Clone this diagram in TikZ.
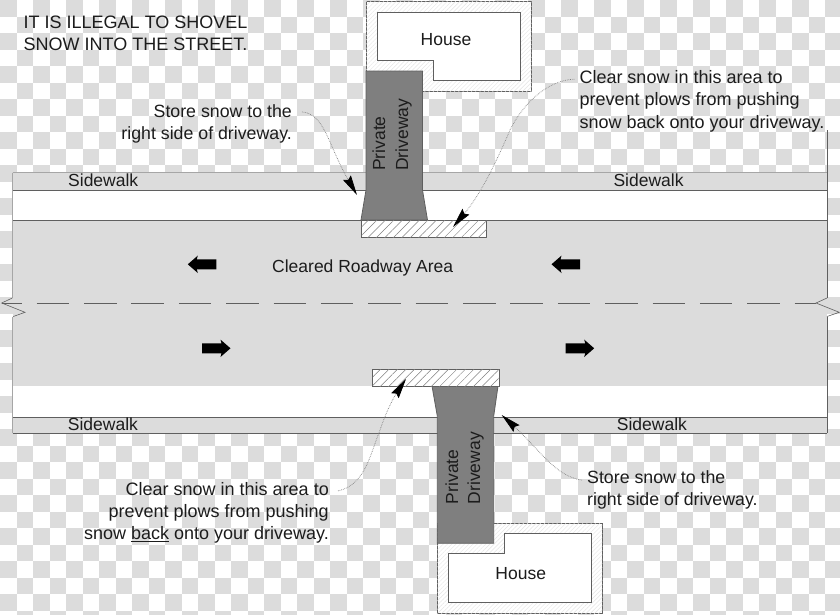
\documentclass[tikz,border=0pt]{standalone}
\usepackage{fontspec}
\setmainfont{Liberation Sans}
\usepackage{tikz}
\usetikzlibrary{
    arrows.meta,
    patterns.meta,
    calc,
    positioning
}
\definecolor{linegray}{HTML}{5F5F5F}
\definecolor{roadgray}{HTML}{DCDCDC}
\definecolor{drivegray}{HTML}{7F7F7F}
\definecolor{inkgray}{HTML}{1C1C1C}
\tikzset{
    checker/.style={
        fill=roadgray
    },
    band/.style={
        fill=roadgray
    },
    edge line/.style={
        draw=linegray, line width=1pt
    },
    soft line/.style={
        draw=gray!70, line width=1pt
    },
    lot/.style={
        draw=linegray, line width=.8pt, fill=white,
        postaction={pattern={Lines[angle=45,distance=3pt,line width=.4pt]}, pattern color=gray!20}
    },
    house box/.style={
        draw=linegray, line width=.9pt, fill=white
    },
    driveway/.style={
        draw=linegray, line width=.8pt, fill=drivegray
    },
    snow strip/.style={
        draw=linegray, line width=.8pt, fill=white,
        postaction={pattern={Lines[angle=45,distance=6pt,line width=.5pt]}, pattern color=gray}
    },
    label text/.style={
        font=\fontsize{17.5}{22.2}\selectfont, text=inkgray, inner sep=0pt
    },
    note/.style={
        font=\fontsize{#1}{22.2}\selectfont, text=inkgray, inner sep=0pt
    },
    callout/.style={
        draw=gray, line width=.7pt, densely dotted,
        -{Stealth[length=20pt,width=9pt,inset=2.5pt,black]}
    },
    road arrow/.style={
        fill=black
    },
}
\begin{document}
\begin{tikzpicture}[x=1pt,y=-1pt]
    \useasboundingbox (0,0) rectangle (840,614);
    \fill[white] (0,0) rectangle (840,614);
    \begin{scope}
        \clip (0,0) rectangle (840,614);
        \foreach \i in {0,...,50} {
            \foreach \j in {0,...,37} {
                \pgfmathtruncatemacro{\k}{mod(\i+\j,2)}
                \ifnum\k=0
                    \fill[checker] (\i*16.5,\j*16.5) rectangle ++(16.5,16.5);
                \fi
            }
        }
    \end{scope}

    % street
    \fill[white] (12.5,172.5) rectangle (827,433);
    \fill[band] (12.5,172.5) rectangle (827,190);
    \fill[band] (12.5,220) rectangle (827,386);
    \fill[band] (12.5,417) rectangle (827,433);
    \draw[soft line] (12.5,172.5) -- (827,172.5);
    \draw[edge line] (12.5,190) -- (827,190);
    \draw[edge line] (12.5,220) -- (827,220);
    \draw[edge line] (12.5,417) -- (827,417);
    \draw[edge line] (12.5,433) -- (827,433);
    \draw[soft line] (12.5,172.5) -- (12.5,298);
    \draw[soft line] (12.5,316.5) -- (12.5,433);
    \draw[edge line] (827,130) -- (827,298);
    \draw[edge line] (827,316.5) -- (827,433);

    % centre line and breaks
    \draw[edge line, line width=.7pt, dash pattern=on 32.5pt off 14.87pt] (36.7,303) -- (816,303);
    \draw[edge line, line width=.7pt] (1.7,303) -- (21.7,303);
    \draw[edge line, line width=.6pt] (12.3,298) -- (1.7,303) -- (25,312.3) -- (13.3,316.5);
    \draw[edge line, line width=.6pt] (827,298) -- (816,303) -- (839.3,312.3) -- (827,316.5);

    % north side property
    \path[lot] (366,1.5) rectangle (531.5,91);
    \path[house box] (377,12) -- (520.5,12) -- (520.5,80.5) -- (433.7,80.5) -- (433.7,60.5) -- (377,60.5) -- cycle;
    \path[driveway] (366,71) -- (422.5,71) -- (422.5,190) -- (427.5,220) -- (361,220) -- (366,190) -- cycle;
    \path[snow strip] (361.5,220) rectangle (486.5,237);

    % south side property
    \path[lot] (437.3,523.3) rectangle (602.3,613.5);
    \path[house box] (448,553.5) -- (504.3,553.5) -- (504.3,533.3) -- (591.3,533.3) -- (591.3,602.3) -- (448,602.3) -- cycle;
    \path[driveway] (432,386) -- (498,386) -- (493.7,416) -- (493.7,543.3) -- (437.3,543.3) -- (437.3,416) -- cycle;
    \path[snow strip] (372.7,369.3) rectangle (499,386);

    % direction arrows
    \foreach \xpos/\ypos/\dir in {216.3/264.3/-1, 580/264.3/-1, 202/348.3/1, 565.7/348.3/1} {
        \fill[road arrow, shift={(\xpos,\ypos)}, xscale=\dir]
            (0,-5) -- (19.5,-5) -- (18.5,-8.7) -- (28.5,0) -- (18.5,8.7) -- (19.5,5) -- (0,5) -- cycle;
    }

    % labels
    \node[label text, anchor=base west] (walk_nw) at (68,186) {Sidewalk};
    \node[label text, anchor=base west] (walk_ne) at (613.3,186) {Sidewalk};
    \node[label text, anchor=base west] (walk_sw) at (67.7,430) {Sidewalk};
    \node[label text, anchor=base west] (walk_se) at (616.7,430) {Sidewalk};
    \node[label text, anchor=base] (house_n) at (446,45.3) {House};
    \node[label text, anchor=base] (house_s) at (520.7,579.3) {House};
    \node[label text, anchor=base west] (roadway) at (272,272) {Cleared Roadway Area};
    \node[note=18, align=left, anchor=north west] (warning) at (23.5,15.4) {IT IS ILLEGAL TO SHOVEL\\SNOW INTO THE STREET.};
    \node[note=17.75, align=right, anchor=north east] (store_n) at (292,104.3) {Store snow to the\\right side of driveway.};
    \node[note=17.75, align=left, anchor=north west] (store_s) at (587,470.6) {Store snow to the\\right side of driveway.};
    \node[note=18, align=left, anchor=north west] (clear_n) at (579.3,70.4) {Clear snow in this area to\\prevent plows from pushing\\snow back onto your driveway.};
    \node[note=18, align=right, anchor=north east] (clear_s) at (329,482.1) {Clear snow in this area to\\prevent plows from pushing\\snow \underline{back} onto your driveway.};
    \node[label text, rotate=90, anchor=base west] (drive_n1) at (385,171) {Private};
    \node[label text, rotate=90, anchor=base west] (drive_n2) at (408,171) {Driveway};
    \node[label text, rotate=90, anchor=base west] (drive_s1) at (458,504.3) {Private};
    \node[label text, rotate=90, anchor=base west] (drive_s2) at (480,504.3) {Driveway};

    % callouts
    \coordinate (tip_store_n) at (357,195);
    \coordinate (tip_clear_n) at (453,227);
    \coordinate (tip_clear_s) at (406,379);
    \coordinate (tip_store_s) at (501.7,415);
    \draw[callout] ([xshift=10pt,yshift=12pt]store_n.east) .. controls (325,114) and (328,145) .. (tip_store_n);
    \draw[callout] ([xshift=-5pt,yshift=22pt]clear_n.west) .. controls (550,80) and (525,100) .. (510,130) .. controls (495,165) and (480,195) .. (tip_clear_n);
    \draw[callout] ([xshift=9pt,yshift=22pt]clear_s.east) .. controls (365,485) and (370,455) .. (380,430) .. controls (385,415) and (392,400) .. (tip_clear_s);
    \draw[callout] ([xshift=-5pt,yshift=10pt]store_s.west) .. controls (555,476) and (540,450) .. (tip_store_s);
\end{tikzpicture}
\end{document}
